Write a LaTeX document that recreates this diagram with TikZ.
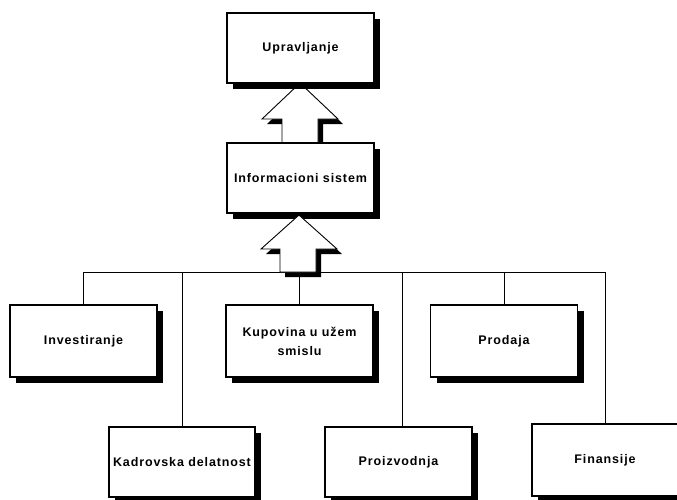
\documentclass[tikz,border=0pt]{standalone}
\usepackage{fontspec}
\setmainfont{Liberation Sans}
\newfontfamily\boxfont{Liberation Sans}[LetterSpace=7]
\usetikzlibrary{shadows}
\begin{document}
\begin{tikzpicture}[x=1pt,y=-1pt,
  unit/.style={draw, line width=1.2pt, fill=white, inner sep=0pt,
    minimum width=147pt, minimum height=70pt,
    font=\boxfont\bfseries\fontsize{12.5pt}{19pt}\selectfont,
    drop shadow={shadow xshift=6pt, shadow yshift=-6pt, fill=black, opacity=1}},
  link/.style={line width=0.9pt},
  bigarrow/.style={draw, line width=0.9pt, fill=white, line join=miter},
  arrowshadow/.style={fill=black}]
\useasboundingbox (0,0) rectangle (677,499);

% upper block arrow (sits under the top box)
\fill[arrowshadow, shift={(5,5)}] (300,83) -- (338,119) -- (318,119) -- (318,143)
  -- (282,143) -- (282,119) -- (262,119) -- cycle;
\path[bigarrow] (300,83) -- (338,119) -- (318,119) -- (318,143)
  -- (282,143) -- (282,119) -- (262,119) -- cycle;

% management and information system
\node[unit] (upr) at (300.5,48) {Upravljanje};
\node[unit] (inf) at (300.5,178) {Informacioni sistem};

% business functions
\node[unit, minimum height=72pt] (inv) at (83.5,341) {Investiranje};
\node[unit, minimum height=72pt, align=center] (kup) at (299.5,341)
  {Kupovina u užem\\smislu};
\node[unit, minimum height=72pt] (pro) at (504,341) {Prodaja};
\node[unit, minimum width=146pt] (kad) at (182,462) {Kadrovska delatnost};
\node[unit] (prz) at (398.5,462) {Proizvodnja};
\node[unit, minimum width=146pt, minimum height=72pt] (fin) at (605,460) {Finansije};

% bus joining the functions
\coordinate (bus) at (300,272);
\draw[link] (inv.north |- bus) -- (fin.north |- bus);
\draw[link] (inv.north) -- (inv.north |- bus);
\draw[link] (kad.north) -- (kad.north |- bus);
\draw[link] (kup.north) -- (kup.north |- bus);
\draw[link] ([xshift=3.5pt]prz.north) -- ([xshift=3.5pt]prz.north |- bus);
\draw[link] (pro.north) -- (pro.north |- bus);
\draw[link] (fin.north) -- (fin.north |- bus);

% lower block arrow from the bus to the information system
\fill[arrowshadow, shift={(5,5)}] (299,215) -- (337,249) -- (316,249) -- (316,272)
  -- (280,272) -- (280,249) -- (261,249) -- cycle;
\path[bigarrow] (299,215) -- (337,249) -- (316,249) -- (316,272)
  -- (280,272) -- (280,249) -- (261,249) -- cycle;
\end{tikzpicture}
\end{document}
